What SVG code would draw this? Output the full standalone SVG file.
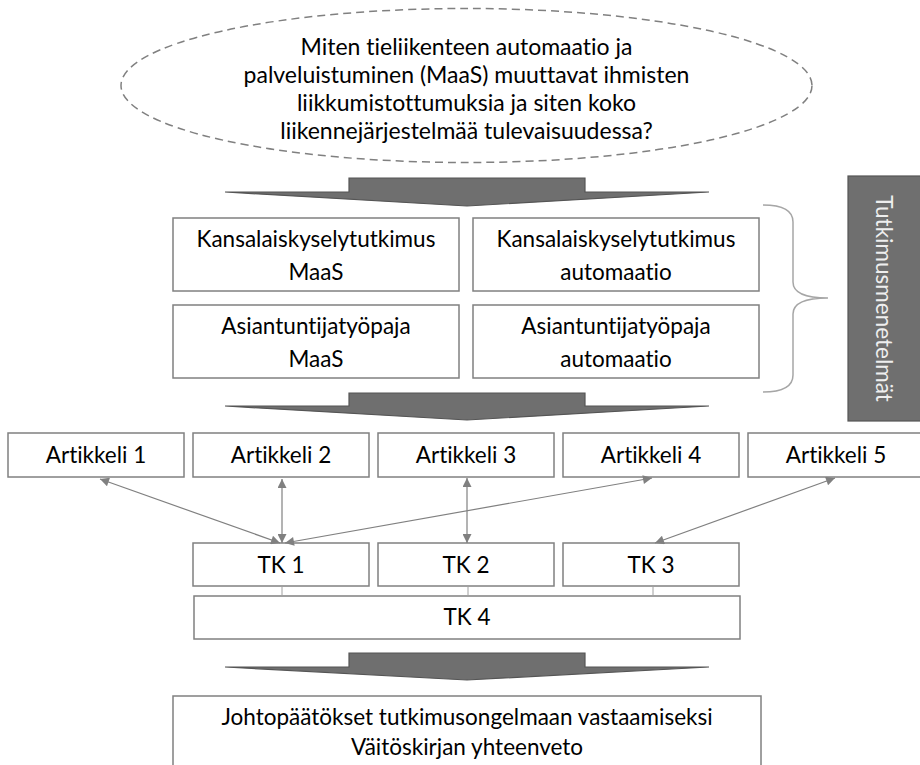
<svg xmlns="http://www.w3.org/2000/svg" width="920" height="765" viewBox="0 0 920 765">
<style>
  .box { fill: #ffffff; stroke: #808080; stroke-width: 1.5; }
  .t { font-family: Lato, "Open Sans", sans-serif; font-size: 22.5px; fill: #000000; text-anchor: middle; font-variant-ligatures: none; }
  .q { font-size: 23px; }
  .big { fill: #6f6f6f; stroke: #555555; stroke-width: 1.2; stroke-linejoin: miter; }
  .conn { stroke: #808080; stroke-width: 1.2; fill: none; marker-start: url(#ah); marker-end: url(#ah); }
  .tick { stroke: #a0a0a0; stroke-width: 1; }
</style>
<defs>
  <marker id="ah" viewBox="0 0 10 10" refX="10" refY="5" markerWidth="10" markerHeight="9" markerUnits="userSpaceOnUse" orient="auto-start-reverse">
    <path d="M0,0 L10,5 L0,10 z" fill="#808080"/>
  </marker>
</defs>
<rect width="920" height="765" fill="#ffffff"/>

<g id="question">
  <ellipse cx="466.5" cy="85.5" rx="345.5" ry="77" fill="none" stroke="#808080" stroke-width="1.5" stroke-dasharray="8 5"/>
  <text class="t q" x="466.5" y="55">Miten tieliikenteen automaatio ja</text>
  <text class="t q" x="466.5" y="83">palveluistuminen (MaaS) muuttavat ihmisten</text>
  <text class="t q" x="466.5" y="111">liikkumistottumuksia ja siten koko</text>
  <text class="t q" x="466.5" y="139">liikennejärjestelmää tulevaisuudessa?</text>
</g>

<g id="arrow1">
  <polygon class="big" points="349,178 585,178 585,192 709,192 467,206 225,192 349,192"/>
</g>

<g id="ks-maas">
  <rect class="box" x="173" y="218" width="286" height="73"/>
  <text class="t" x="316" y="247">Kansalaiskyselytutkimus</text>
  <text class="t" x="316" y="280">MaaS</text>
</g>
<g id="ks-auto">
  <rect class="box" x="473" y="218" width="286" height="73"/>
  <text class="t" x="616" y="247">Kansalaiskyselytutkimus</text>
  <text class="t" x="616" y="280">automaatio</text>
</g>
<g id="at-maas">
  <rect class="box" x="173" y="305" width="286" height="73"/>
  <text class="t" x="316" y="334">Asiantuntijatyöpaja</text>
  <text class="t" x="316" y="367">MaaS</text>
</g>
<g id="at-auto">
  <rect class="box" x="473" y="305" width="286" height="73"/>
  <text class="t" x="616" y="334">Asiantuntijatyöpaja</text>
  <text class="t" x="616" y="367">automaatio</text>
</g>

<g id="brace">
  <path d="M763,205 Q793,205 793,222 L793,282 Q793,298 828,298 Q793,298 793,314 L793,375 Q793,392 763,392" fill="none" stroke="#a6a6a6" stroke-width="1.5"/>
</g>

<g id="methods">
  <rect x="848" y="176" width="76" height="245" fill="#6f6f6f" stroke="#555555" stroke-width="1.2"/>
  <text class="t" x="0" y="0" transform="translate(876,298.5) rotate(90)" style="fill:#eeeeee">Tutkimusmenetelmät</text>
</g>

<g id="arrow2">
  <polygon class="big" points="349,393 585,393 585,406 709,406 467,420 225,406 349,406"/>
</g>

<g id="art1"><rect class="box" x="8" y="433" width="176" height="44"/><text class="t" x="96" y="463">Artikkeli 1</text></g>
<g id="art2"><rect class="box" x="193" y="433" width="176" height="44"/><text class="t" x="281" y="463">Artikkeli 2</text></g>
<g id="art3"><rect class="box" x="378" y="433" width="176" height="44"/><text class="t" x="466" y="463">Artikkeli 3</text></g>
<g id="art4"><rect class="box" x="563" y="433" width="176" height="44"/><text class="t" x="651" y="463">Artikkeli 4</text></g>
<g id="art5"><rect class="box" x="748" y="433" width="176" height="44"/><text class="t" x="836" y="463">Artikkeli 5</text></g>

<g id="tk1"><rect class="box" x="193" y="543" width="176" height="43"/><text class="t" x="281" y="573">TK 1</text></g>
<g id="tk2"><rect class="box" x="378" y="543" width="176" height="43"/><text class="t" x="466" y="573">TK 2</text></g>
<g id="tk3"><rect class="box" x="563" y="543" width="176" height="43"/><text class="t" x="651" y="573">TK 3</text></g>
<g id="tk4"><rect class="box" x="194" y="596" width="546" height="43"/><text class="t" x="467" y="625">TK 4</text></g>

<g id="connectors">
  <line class="conn" x1="100" y1="479" x2="280" y2="543"/>
  <line class="conn" x1="282" y1="479" x2="282" y2="543"/>
  <line class="conn" x1="652" y1="478" x2="285" y2="543"/>
  <line class="conn" x1="467" y1="478" x2="467" y2="543"/>
  <line class="conn" x1="835" y1="478" x2="655" y2="543"/>
  <line class="tick" x1="282" y1="586" x2="282" y2="596"/>
  <line class="tick" x1="468" y1="586" x2="468" y2="596"/>
  <line class="tick" x1="653" y1="586" x2="653" y2="596"/>
</g>

<g id="arrow3">
  <polygon class="big" points="349,653 585,653 585,667 709,667 467,680 225,667 349,667"/>
</g>

<g id="conclusion">
  <rect class="box" x="173" y="696" width="588" height="80"/>
  <text class="t" x="467" y="725">Johtopäätökset tutkimusongelmaan vastaamiseksi</text>
  <text class="t" x="467" y="755">Väitöskirjan yhteenveto</text>
</g>
</svg>
